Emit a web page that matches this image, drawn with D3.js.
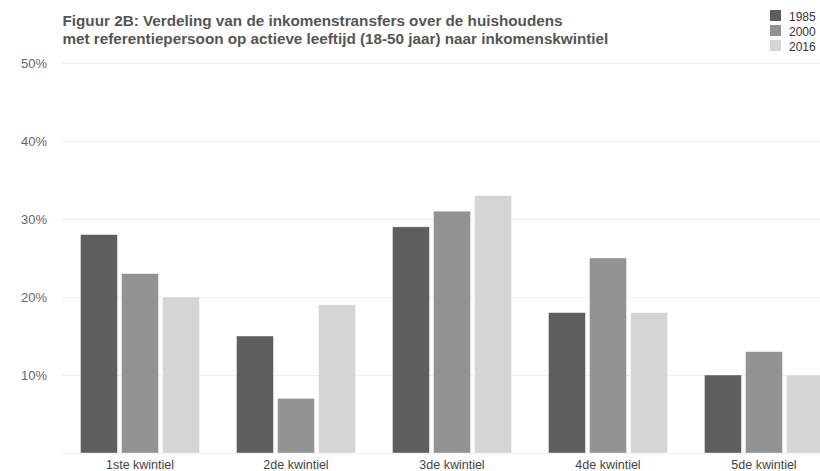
<!DOCTYPE html>
<html><head><meta charset="utf-8">
<script src="https://cdn.jsdelivr.net/npm/d3@7"></script>
<style>body{margin:0;background:#fff}svg{display:block;font-family:"Liberation Sans",Arial,sans-serif}</style>
</head><body><svg id="c" width="820" height="471"></svg>
<script>
const categories = ["1ste kwintiel","2de kwintiel","3de kwintiel","4de kwintiel","5de kwintiel"];
const seriesNames = ["1985","2000","2016"];
const v1985 = [28,15,29,18,10];
const v2000 = [23,7,31,25,13];
const v2016 = [20,19,33,18,10];
const yTicks = [10,20,30,40,50];
const colors = ["#5e5e5e","#939393","#d5d5d5"];
const titleLines = ["Figuur 2B: Verdeling van de inkomenstransfers over de huishoudens","met referentiepersoon op actieve leeftijd (18-50 jaar) naar inkomenskwintiel"];

const series = [v1985,v2000,v2016];
const svg = d3.select("#c");
const y = d3.scaleLinear().domain([0,50]).range([453,63]);
const x0 = d3.scaleBand().domain(categories).range([62,842]).padding(0);
const x1 = d3.scaleBand().domain(seriesNames).range([18.5,137.5]).paddingInner(0.1);

// grid
svg.append("g").selectAll("line").data([0].concat(yTicks)).join("line")
  .attr("x1",62).attr("x2",820).attr("y1",d=>y(d)+0.5).attr("y2",d=>y(d)+0.5)
  .attr("stroke","#eeeeee").attr("stroke-width",1);

// y labels
svg.append("g").selectAll("text").data(yTicks).join("text")
  .attr("x",47).attr("y",d=>y(d)+5).attr("text-anchor","end")
  .attr("font-size",13).attr("fill","#666").text(d=>d+"%");

// bars
const g = svg.append("g");
categories.forEach((c,i)=>{
  seriesNames.forEach((s,j)=>{
    g.append("rect").attr("x",x0(c)+x1(s)).attr("width",x1.bandwidth())
     .attr("y",y(series[j][i])).attr("height",y(0)-y(series[j][i]))
     .attr("fill",colors[j]).attr("stroke","#ffffff").attr("stroke-opacity",0.5).attr("stroke-width",0.8);
  });
});

// x labels
svg.append("g").selectAll("text").data(categories).join("text")
  .attr("x",d=>x0(d)+x0.bandwidth()/2).attr("y",468.5).attr("text-anchor","middle")
  .attr("font-size",12.5).attr("fill","#444").text(d=>d);

// title
svg.append("g").selectAll("text").data(titleLines).join("text")
  .attr("x",62.5).attr("y",(d,i)=>26+i*17.5).attr("font-size",15.25).attr("font-weight","bold")
  .attr("fill","#555").text(d=>d);

// legend
const lg = svg.append("g");
seriesNames.forEach((s,i)=>{
  lg.append("rect").attr("x",770).attr("y",10+i*15).attr("width",11).attr("height",11).attr("fill",colors[i]);
  lg.append("text").attr("x",789).attr("y",20.5+i*15).attr("font-size",12).attr("fill","#333").text(s);
});
</script></body></html>
